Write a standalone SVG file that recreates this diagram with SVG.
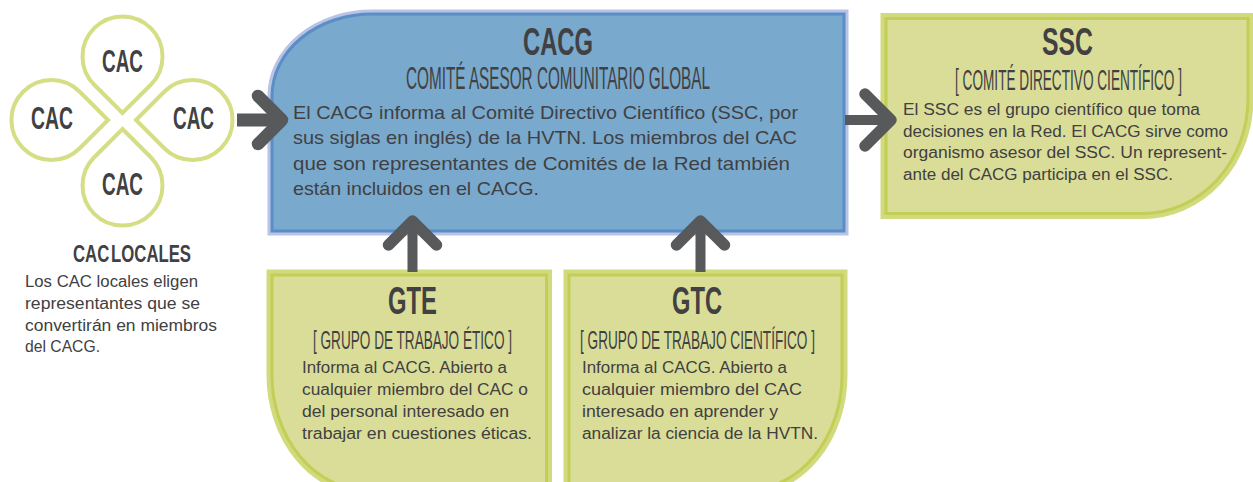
<svg xmlns="http://www.w3.org/2000/svg" width="1253" height="482" viewBox="0 0 1253 482">
<style>
.drop{fill:none;stroke:#d6de85;stroke-width:4}
.cond{font-family:"Liberation Sans Narrow","Liberation Sans","DejaVu Sans Condensed",sans-serif;fill:#414042;text-anchor:middle}
.hb{font-weight:bold}
.body{font-family:"Liberation Sans",Arial,sans-serif;fill:#414042}
.b18{font-size:18.5px}
.b16{font-size:16px}
.band-b{fill:none;stroke:#b8c3e6;stroke-width:9}
.box-b{fill:#79a9cd;stroke:#5b8dc6;stroke-width:3}
.band-g{fill:none;stroke:#d2da7e;stroke-width:11}
.box-g{fill:#d9dd98;stroke:#c3ce57;stroke-width:3}
.arr{fill:none;stroke:#58595b;stroke-linecap:round;stroke-linejoin:round}
.shaft{stroke:#58595b;stroke-linecap:butt}
</style>
<defs>
<path id="drop" d="M0,0 L-28.28,-28.28 A40,40 0 1 1 28.28,-28.28 Z"/>
</defs>

<g id="cac-locales">
<use href="#drop" class="drop" transform="translate(122.5,113)"/>
<use href="#drop" class="drop" transform="translate(122.5,129) rotate(180)"/>
<use href="#drop" class="drop" transform="translate(108,120) rotate(-90)"/>
<use href="#drop" class="drop" transform="translate(136,120) rotate(90)"/>
<text class="cond hb" x="122.5" y="72" font-size="32" textLength="41" lengthAdjust="spacingAndGlyphs">CAC</text>
<text class="cond hb" x="52" y="129" font-size="32" textLength="42" lengthAdjust="spacingAndGlyphs">CAC</text>
<text class="cond hb" x="193.5" y="129" font-size="32" textLength="41" lengthAdjust="spacingAndGlyphs">CAC</text>
<text class="cond hb" x="122.5" y="195" font-size="32" textLength="41" lengthAdjust="spacingAndGlyphs">CAC</text>
<text class="cond hb" x="132" y="262" font-size="24" word-spacing="-4" textLength="118" lengthAdjust="spacingAndGlyphs">CAC LOCALES</text>
<text class="body b16" x="25" y="287" textLength="173" lengthAdjust="spacingAndGlyphs">Los CAC locales eligen</text>
<text class="body b16" x="25" y="309" textLength="175" lengthAdjust="spacingAndGlyphs">representantes que se</text>
<text class="body b16" x="25" y="331" textLength="192" lengthAdjust="spacingAndGlyphs">convertirán en miembros</text>
<text class="body b16" x="25" y="352" textLength="75" lengthAdjust="spacingAndGlyphs">del CACG.</text>
</g>

<g id="cacg">
<path class="band-b" d="M272,96 A100,82 0 0 1 372,14 H844 V231 H272 Z"/>
<path class="box-b" d="M272,96 A100,82 0 0 1 372,14 H844 V231 H272 Z"/>
<text class="cond hb" x="558" y="55" font-size="38" textLength="70" lengthAdjust="spacingAndGlyphs">CACG</text>
<text class="cond" transform="translate(558,89) scale(0.579,1)" font-size="32" textLength="525" lengthAdjust="spacingAndGlyphs">COMITÉ ASESOR COMUNITARIO GLOBAL</text>
<text class="body b18" x="293" y="118.5" textLength="505" lengthAdjust="spacingAndGlyphs">El CACG informa al Comité Directivo Científico (SSC, por</text>
<text class="body b18" x="293" y="144" textLength="504" lengthAdjust="spacingAndGlyphs">sus siglas en inglés) de la HVTN. Los miembros del CAC</text>
<text class="body b18" x="293" y="169.5" textLength="497" lengthAdjust="spacingAndGlyphs">que son representantes de Comités de la Red también</text>
<text class="body b18" x="293" y="195" textLength="246" lengthAdjust="spacingAndGlyphs">están incluidos en el CACG.</text>
</g>

<g id="ssc">
<path class="band-g" d="M886,18.5 H1248 V98.5 A105,115 0 0 1 1143,213.5 H886 Z"/>
<path class="box-g" d="M886,18.5 H1248 V98.5 A105,115 0 0 1 1143,213.5 H886 Z"/>
<text class="cond hb" x="1067.5" y="55" font-size="38" textLength="51" lengthAdjust="spacingAndGlyphs">SSC</text>
<text class="cond" transform="translate(1068.5,90) scale(0.553,1)" font-size="30" textLength="410.5" lengthAdjust="spacingAndGlyphs">[ COMITÉ DIRECTIVO CIENTÍFICO ]</text>
<text class="body b16" x="903" y="115" textLength="297" lengthAdjust="spacingAndGlyphs">El SSC es el grupo científico que toma</text>
<text class="body b16" x="903" y="136.5" textLength="325" lengthAdjust="spacingAndGlyphs">decisiones en la Red. El CACG sirve como</text>
<text class="body b16" x="903" y="158" textLength="324" lengthAdjust="spacingAndGlyphs">organismo asesor del SSC. Un represent-</text>
<text class="body b16" x="903" y="179.5" textLength="270" lengthAdjust="spacingAndGlyphs">ante del CACG participa en el SSC.</text>
</g>

<g id="gte">
<path class="band-g" d="M272,275 H546.5 V490 H367 A95,115 0 0 1 272,375 Z"/>
<path class="box-g" d="M272,275 H546.5 V490 H367 A95,115 0 0 1 272,375 Z"/>
<text class="cond hb" x="412.5" y="314" font-size="38" textLength="49" lengthAdjust="spacingAndGlyphs">GTE</text>
<text class="cond" transform="translate(412.5,349) scale(0.66,1)" font-size="25" textLength="301.5" lengthAdjust="spacingAndGlyphs">[ GRUPO DE TRABAJO ÉTICO ]</text>
<text class="body b16" x="302" y="373" textLength="205" lengthAdjust="spacingAndGlyphs">Informa al CACG. Abierto a</text>
<text class="body b16" x="302" y="395" textLength="226" lengthAdjust="spacingAndGlyphs">cualquier miembro del CAC o</text>
<text class="body b16" x="302" y="417" textLength="207" lengthAdjust="spacingAndGlyphs">del personal interesado en</text>
<text class="body b16" x="302" y="439" textLength="230" lengthAdjust="spacingAndGlyphs">trabajar en cuestiones éticas.</text>
</g>

<g id="gtc">
<path class="band-g" d="M569,275 H842 V375 A95,115 0 0 1 747,490 H569 Z"/>
<path class="box-g" d="M569,275 H842 V375 A95,115 0 0 1 747,490 H569 Z"/>
<text class="cond hb" x="697" y="314" font-size="38" textLength="50" lengthAdjust="spacingAndGlyphs">GTC</text>
<text class="cond" transform="translate(697.5,349) scale(0.664,1)" font-size="25" textLength="354" lengthAdjust="spacingAndGlyphs">[ GRUPO DE TRABAJO CIENTÍFICO ]</text>
<text class="body b16" x="582" y="373" textLength="205" lengthAdjust="spacingAndGlyphs">Informa al CACG. Abierto a</text>
<text class="body b16" x="582" y="395" textLength="220" lengthAdjust="spacingAndGlyphs">cualquier miembro del CAC</text>
<text class="body b16" x="582" y="417" textLength="196" lengthAdjust="spacingAndGlyphs">interesado en aprender y</text>
<text class="body b16" x="582" y="439" textLength="236" lengthAdjust="spacingAndGlyphs">analizar la ciencia de la HVTN.</text>
</g>

<g id="connectors">
<line class="shaft" x1="237" y1="120" x2="278" y2="120" stroke-width="13"/>
<polyline class="arr" stroke-width="12.5" points="258,96 282,120 258,144"/>
<line class="shaft" x1="845" y1="120" x2="888" y2="120" stroke-width="10"/>
<polyline class="arr" stroke-width="11.5" points="865,94 891,120 865,146"/>
<line class="shaft" x1="412.5" y1="272" x2="412.5" y2="225" stroke-width="10"/>
<polyline class="arr" stroke-width="11.5" points="388.5,245 412.5,221 436.5,245"/>
<line class="shaft" x1="700.5" y1="272" x2="700.5" y2="225" stroke-width="10"/>
<polyline class="arr" stroke-width="11.5" points="676.5,245 700.5,221 724.5,245"/>
</g>
</svg>
